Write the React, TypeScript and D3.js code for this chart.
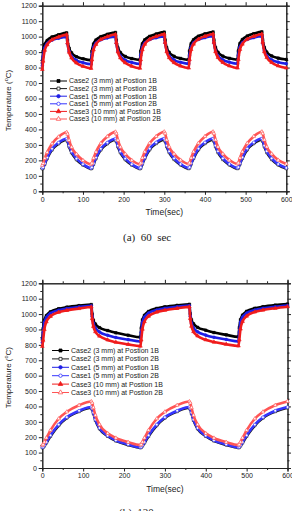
import React, { useEffect, useRef } from 'react';
import * as d3 from 'd3';

// time grid, 60 s heating / 60 s cooling
const timeA = [
  0,
  2, 6, 12, 24, 40, 60, 62, 66, 72, 84, 100, 120,
  122, 126, 132, 144, 160, 180, 182, 186, 192, 204, 220, 240,
  242, 246, 252, 264, 280, 300, 302, 306, 312, 324, 340, 360,
  362, 366, 372, 384, 400, 420, 422, 426, 432, 444, 460, 480,
  482, 486, 492, 504, 520, 540, 542, 546, 552, 564, 580, 600,
];

const case2_1B_A = [
  830,
  905, 950, 975, 998, 1012, 1024, 975, 925, 895, 870, 857, 848,
  905, 952, 978, 1000, 1015, 1027, 977, 927, 897, 872, 858, 849,
  906, 953, 979, 1002, 1017, 1029, 978, 928, 898, 873, 859, 850,
  907, 954, 980, 1003, 1018, 1030, 979, 929, 899, 874, 860, 851,
  907, 955, 981, 1004, 1019, 1031, 980, 930, 900, 875, 861, 852,
];
const case2_2B_A = [
  146,
  150, 175, 212, 268, 308, 333, 323, 288, 250, 205, 170, 146,
  150, 175, 212, 268, 308, 333, 323, 288, 250, 205, 170, 146,
  150, 176, 213, 269, 309, 334, 324, 289, 251, 206, 171, 147,
  151, 176, 213, 269, 309, 334, 324, 289, 251, 206, 171, 147,
  151, 176, 213, 269, 309, 334, 324, 289, 251, 206, 171, 147,
];
const case1_1B_A = [
  812,
  872, 928, 956, 978, 990, 998, 955, 905, 874, 847, 832, 822,
  878, 930, 958, 980, 992, 1000, 957, 906, 875, 848, 833, 823,
  879, 931, 959, 981, 993, 1001, 958, 907, 876, 849, 834, 824,
  880, 932, 960, 982, 994, 1002, 959, 908, 877, 850, 835, 825,
  880, 932, 960, 982, 994, 1002, 959, 908, 877, 850, 835, 825,
];
const case1_2B_A = [
  150,
  155, 180, 218, 275, 315, 340, 330, 295, 258, 212, 175, 150,
  155, 180, 218, 275, 315, 340, 330, 295, 258, 212, 175, 150,
  155, 181, 219, 276, 316, 341, 331, 296, 259, 213, 176, 151,
  156, 181, 219, 276, 316, 341, 331, 296, 259, 213, 176, 151,
  156, 181, 219, 276, 316, 341, 331, 296, 259, 213, 176, 151,
];
const case3_1B_A = [
  788,
  842, 912, 948, 980, 998, 1013, 960, 900, 862, 830, 808, 795,
  850, 915, 950, 982, 1000, 1015, 962, 901, 863, 831, 809, 796,
  851, 916, 951, 983, 1001, 1016, 963, 902, 864, 832, 810, 797,
  852, 917, 952, 984, 1002, 1017, 964, 903, 865, 833, 811, 797,
  852, 917, 952, 984, 1002, 1017, 964, 903, 865, 833, 811, 797,
];
const case3_2B_A = [
  168,
  180, 212, 252, 308, 352, 382, 370, 330, 285, 240, 200, 175,
  182, 214, 254, 310, 354, 384, 372, 331, 286, 241, 201, 176,
  183, 215, 255, 311, 355, 385, 373, 332, 287, 242, 202, 177,
  183, 215, 255, 311, 355, 385, 373, 332, 287, 242, 202, 177,
  183, 215, 255, 311, 355, 385, 373, 332, 287, 242, 202, 177,
];

// time grid, 120 s heating / 120 s cooling
const timeB = [
  0,
  2, 5, 10, 20, 40, 60, 90, 120,
  122, 125, 130, 140, 160, 180, 210, 240,
  242, 245, 250, 260, 280, 300, 330, 360,
  362, 365, 370, 380, 400, 420, 450, 480,
  482, 485, 490, 500, 520, 540, 570, 600,
];

const case2_1B_B = [
  835,
  905, 960, 990, 1015, 1035, 1045, 1055, 1062,
  1000, 960, 935, 912, 893, 878, 863, 850,
  910, 962, 992, 1017, 1037, 1047, 1057, 1064,
  1002, 962, 937, 914, 895, 880, 865, 852,
  912, 963, 993, 1018, 1038, 1048, 1058, 1065,
];
const case2_2B_B = [
  132,
  134, 143, 163, 206, 276, 325, 367, 392,
  382, 355, 310, 255, 206, 176, 150, 132,
  134, 143, 163, 206, 276, 325, 367, 392,
  382, 355, 310, 255, 206, 176, 150, 132,
  134, 143, 163, 206, 276, 325, 367, 392,
];
const case1_1B_B = [
  815,
  880, 945, 978, 1005, 1025, 1036, 1046, 1054,
  985, 940, 910, 884, 862, 848, 834, 822,
  882, 946, 980, 1006, 1026, 1037, 1047, 1055,
  986, 941, 911, 885, 863, 849, 835, 823,
  883, 947, 980, 1006, 1026, 1037, 1047, 1055,
];
const case1_2B_B = [
  135,
  137, 147, 168, 212, 282, 330, 372, 396,
  386, 360, 315, 260, 210, 180, 153, 135,
  137, 147, 168, 212, 282, 330, 372, 396,
  386, 360, 315, 260, 210, 180, 153, 135,
  137, 147, 168, 212, 282, 330, 372, 396,
];
const case3_1B_B = [
  790,
  830, 900, 950, 985, 1012, 1024, 1036, 1046,
  970, 920, 885, 857, 832, 817, 803, 792,
  832, 902, 951, 986, 1013, 1025, 1037, 1047,
  971, 921, 886, 858, 833, 818, 804, 793,
  833, 903, 952, 987, 1014, 1026, 1038, 1048,
];
const case3_2B_B = [
  148,
  152, 168, 195, 245, 320, 365, 408, 432,
  422, 392, 342, 282, 225, 195, 168, 150,
  152, 168, 195, 245, 320, 365, 408, 432,
  422, 392, 342, 282, 225, 195, 168, 150,
  152, 168, 195, 245, 320, 365, 408, 432,
];

const seriesNames = [
  'Case2 (3 mm) at Postion 1B',
  'Case2 (3 mm) at Postion 2B',
  'Case1 (5 mm) at Postion 1B',
  'Case1 (5 mm) at Postion 2B',
  'Case3 (10 mm) at Postion 1B',
  'Case3 (10 mm) at Postion 2B',
];
const seriesColors = ['#000000', '#1a1a1a', '#1f1fe6', '#3535ff', '#f01c1c', '#ff5555'];
const seriesSymbols = [d3.symbolSquare, d3.symbolSquare, d3.symbolCircle, d3.symbolCircle, d3.symbolTriangle, d3.symbolTriangle];
const seriesFilled = [true, false, true, false, true, false];

const xTicks = [0, 100, 200, 300, 400, 500, 600];
const yTicks = d3.range(0, 1201, 100);

const sans = "'Liberation Sans', Arial, sans-serif";
const serif = "'Liberation Serif', 'Times New Roman', serif";

function Panel(props) {
  const { times, values, box, legend, caption } = props;
  const ref = useRef(null);

  useEffect(() => {
    const g = d3.select(ref.current);
    g.selectAll('*').remove();

    const x = d3.scaleLinear().domain([0, 600]).range([box.left, box.right]);
    const y = d3.scaleLinear().domain([0, 1200]).range([box.bottom, box.top]);
    const minorX = d3.range(50, 600, 100);
    const minorY = d3.range(50, 1200, 100);
    const fmt = d3.format('d');

    const styleAxis = (sel) => {
      sel.selectAll('path').attr('stroke', '#222').attr('stroke-width', 1);
      sel.selectAll('line').attr('stroke', '#222');
      sel.selectAll('text').attr('font-family', sans).attr('font-size', 7).attr('fill', '#222');
    };

    // minor ticks
    g.append('g').attr('transform', `translate(0,${box.bottom})`)
      .call(d3.axisBottom(x).tickValues(minorX).tickSize(2).tickFormat(() => '')).call(styleAxis);
    g.append('g').attr('transform', `translate(0,${box.top})`)
      .call(d3.axisTop(x).tickValues(minorX).tickSize(2).tickFormat(() => '')).call(styleAxis);
    g.append('g').attr('transform', `translate(${box.left},0)`)
      .call(d3.axisLeft(y).tickValues(minorY).tickSize(2).tickFormat(() => '')).call(styleAxis);
    g.append('g').attr('transform', `translate(${box.right},0)`)
      .call(d3.axisRight(y).tickValues(minorY).tickSize(2).tickFormat(() => '')).call(styleAxis);

    // major ticks + labels
    g.append('g').attr('transform', `translate(0,${box.bottom})`)
      .call(d3.axisBottom(x).tickValues(xTicks).tickSize(3.5).tickPadding(2).tickFormat(fmt)).call(styleAxis);
    g.append('g').attr('transform', `translate(0,${box.top})`)
      .call(d3.axisTop(x).tickValues(xTicks).tickSize(3.5).tickFormat(() => '')).call(styleAxis);
    g.append('g').attr('transform', `translate(${box.left},0)`)
      .call(d3.axisLeft(y).tickValues(yTicks).tickSize(3.5).tickPadding(2).tickFormat(fmt)).call(styleAxis);
    g.append('g').attr('transform', `translate(${box.right},0)`)
      .call(d3.axisRight(y).tickValues(yTicks).tickSize(3.5).tickFormat(() => '')).call(styleAxis);

    // series: line plus a marker at every sample
    const line = d3.line().x((d) => x(d[0])).y((d) => y(d[1])).curve(d3.curveMonotoneX);
    values.forEach((vals, i) => {
      const pts = times.map((t, j) => [t, vals[j]]);
      g.append('path')
        .attr('d', line(pts))
        .attr('fill', 'none')
        .attr('stroke', seriesColors[i])
        .attr('stroke-width', 2.6)
        .attr('stroke-linejoin', 'round');
      const sym = d3.symbol().type(seriesSymbols[i]).size(6);
      g.append('g').selectAll('path')
        .data(pts).enter()
        .append('path')
        .attr('d', sym)
        .attr('transform', (d) => `translate(${x(d[0])},${y(d[1])})`)
        .attr('fill', seriesFilled[i] ? seriesColors[i] : '#fff')
        .attr('stroke', seriesColors[i])
        .attr('stroke-width', 0.6);
    });

    // legend
    seriesNames.forEach((name, i) => {
      const ly = legend.y + i * legend.step;
      const row = g.append('g');
      row.append('line')
        .attr('x1', legend.x).attr('x2', legend.x + 17)
        .attr('y1', ly).attr('y2', ly)
        .attr('stroke', seriesColors[i]).attr('stroke-width', 1);
      row.append('path')
        .attr('d', d3.symbol().type(seriesSymbols[i]).size(9)())
        .attr('transform', `translate(${legend.x + 8.5},${ly})`)
        .attr('fill', seriesFilled[i] ? seriesColors[i] : '#fff')
        .attr('stroke', seriesColors[i]).attr('stroke-width', 0.8);
      row.append('text')
        .attr('x', legend.x + 19).attr('y', ly + 2.4)
        .attr('font-family', sans).attr('font-size', 7)
        .attr('fill', '#222')
        .text(name);
    });

    // axis titles
    const yl = g.append('text')
      .attr('transform', `translate(11,${(box.top + box.bottom) / 2 + 2}) rotate(-90)`)
      .attr('text-anchor', 'middle')
      .attr('font-family', sans).attr('font-size', 8)
      .attr('fill', '#222');
    yl.append('tspan').text('Temperature (');
    yl.append('tspan').attr('font-size', 5.5).attr('dy', -3).text('o');
    yl.append('tspan').attr('dy', 3).text('C)');

    g.append('text')
      .attr('x', (box.left + box.right) / 2).attr('y', box.bottom + 24)
      .attr('text-anchor', 'middle')
      .attr('font-family', sans).attr('font-size', 8.5)
      .attr('fill', '#222')
      .text('Time(sec)');

    g.append('text')
      .attr('x', caption.x).attr('y', caption.y)
      .attr('font-family', serif).attr('font-size', 11)
      .attr('fill', '#222')
      .style('white-space', 'pre')
      .text(caption.text);
  }, [times, values]);

  return <g ref={ref} />;
}

export default function App() {
  return (
    <svg width={292} height={511} style={{ position: 'fixed', left: 0, top: 0, background: '#fff' }}>
      <Panel
        times={timeA}
        values={[case2_1B_A, case2_2B_A, case1_1B_A, case1_2B_A, case3_1B_A, case3_2B_A]}
        box={{ left: 42.3, right: 286.3, top: 5.7, bottom: 191.3 }}
        legend={{ x: 50, y: 81, step: 7.6 }}
        caption={{ x: 123, y: 240.5, text: '(a)  60  sec' }}
      />
      <Panel
        times={timeB}
        values={[case2_1B_B, case2_2B_B, case1_1B_B, case1_2B_B, case3_1B_B, case3_2B_B]}
        box={{ left: 42.3, right: 287.5, top: 283.3, bottom: 468 }}
        legend={{ x: 52, y: 350.5, step: 8.4 }}
        caption={{ x: 119, y: 516, text: '(b)  120  sec' }}
      />
    </svg>
  );
}
